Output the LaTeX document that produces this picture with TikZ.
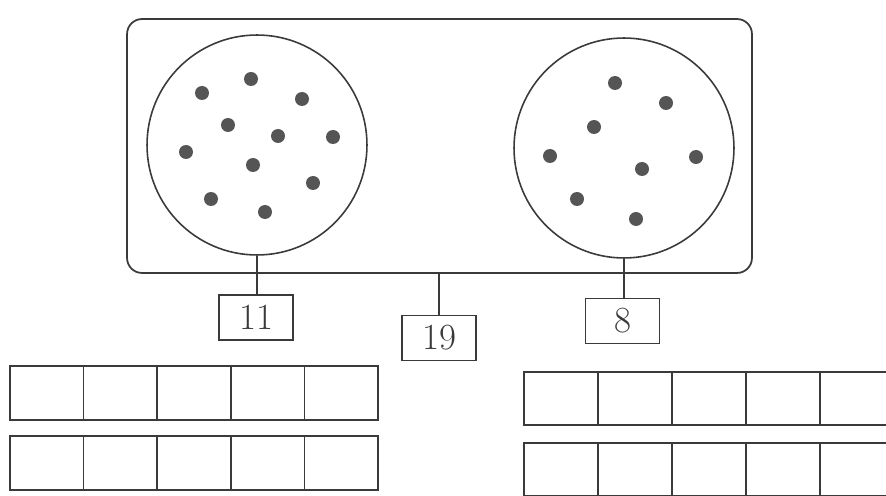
\documentclass[tikz,border=0pt]{standalone}
\usetikzlibrary{positioning}
\definecolor{ink}{HTML}{3A3A3A}
\definecolor{dotgray}{HTML}{555555}
\tikzset{
	frame/.style={draw=ink, line width=1pt, rounded corners=0.3cm, minimum width=12.5cm, minimum height=5.08cm, inner sep=0pt},
	setring/.style={draw=ink, line width=0.9pt, circle, minimum size=4.4cm, inner sep=0pt},
	numbox/.style={draw=ink, line width=1pt, minimum width=1.48cm, minimum height=0.9cm, inner sep=0pt, text=ink, font=\fontsize{21}{24}\selectfont},
	counter/.style={fill=dotgray},
	cell/.style={draw=ink, line width=1pt},
	link/.style={draw=ink, line width=0.9pt}
}

\begin{document}
\begin{tikzpicture}[x=0.02cm, y=-0.02cm]
	\useasboundingbox (0,0) rectangle (886,496);
	
	% --- Frame with the two sets ---
	\node[frame] (frame) at (439.5,146) {};
	\node[setring] (left) at (257,145) {};
	\node[setring] (right) at (624,148) {};
	
	% Counters (11)
	\foreach \x/\y in {251/79, 202/93, 302/99, 228/125, 278/136, 333/137, 186/152, 253/165, 313/183, 211/199, 265/212}
		\fill[counter] (\x,\y) circle[radius=0.14cm];
	% Counters (8)
	\foreach \x/\y in {615/83, 666/103, 594/127, 550/156, 696/157, 642/169, 577/199, 636/219}
		\fill[counter] (\x,\y) circle[radius=0.14cm];
	
	% --- Number boxes ---
	\node[numbox] (n11) at (256,317.5) {11};
	\node[numbox] (n19) at (439,338) {19};
	\node[numbox] (n8) at (622.5,321) {8};
	
	\draw[link] (left.south) -- (left.south |- n11.north);
	\draw[link] (n19.north |- frame.south) -- (n19.north);
	\draw[link] (right.south) -- (right.south |- n8.north);
	
	% --- Ten-frames ---
	\foreach \y in {366,436}
		\foreach \i in {0,...,4} \draw[cell] (10+73.6*\i,\y) rectangle ++(73.6,54);
	\foreach \y in {372,443}
		\foreach \i in {0,...,4} \draw[cell] (524+74*\i,\y) rectangle ++(74,53);
\end{tikzpicture}
\end{document}
